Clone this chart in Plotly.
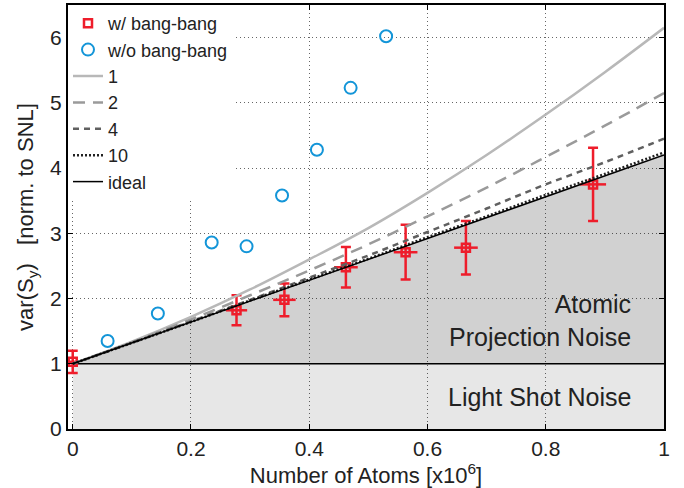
import plotly.graph_objects as go

# ---- data ----
bb_x = [0.0, 0.277, 0.358, 0.462, 0.563, 0.665, 0.880]
bb_y = [1.03, 1.82, 1.98, 2.48, 2.71, 2.78, 3.75]
bb_yerr = [0.17, 0.23, 0.25, 0.31, 0.42, 0.41, 0.56]
bb_xerr = [0.01, 0.018, 0.019, 0.02, 0.02, 0.02, 0.022]

nobb_x = [0.059, 0.144, 0.235, 0.294, 0.354, 0.413, 0.470, 0.530]
nobb_y = [1.35, 1.77, 2.86, 2.80, 3.58, 4.28, 5.23, 6.02]

model_x = [0.0, 0.1, 0.2, 0.3, 0.4, 0.5, 0.6, 0.7, 0.8, 0.9, 1.0]
model_1 = [1.0, 1.34, 1.72, 2.14, 2.60, 3.08, 3.62, 4.20, 4.82, 5.47, 6.15]
model_2 = [1.0, 1.33, 1.68, 2.05, 2.43, 2.83, 3.26, 3.70, 4.17, 4.65, 5.15]
model_4 = [1.0, 1.32, 1.65, 1.98, 2.32, 2.66, 3.02, 3.38, 3.75, 4.09, 4.45]
model_10 = [1.0, 1.32, 1.64, 1.97, 2.29, 2.61, 2.94, 3.26, 3.59, 3.91, 4.24]

ideal_x = [0.0, 1.0]
ideal_y = [1.0, 4.2]
snl_y = [1.0, 1.0]

FONT = "Liberation Sans, Arial, Helvetica, sans-serif"
RED = "#ee1d2b"
BLUE = "#1395d8"

fig = go.Figure()

# shaded regions (transparent so the grid shows through)
fig.add_trace(go.Scatter(x=ideal_x, y=snl_y, mode="lines", line=dict(color="black", width=1.5),
                         fill="tozeroy", fillcolor="rgba(0,0,0,0.095)", showlegend=False,
                         hoverinfo="skip"))
fig.add_trace(go.Scatter(x=ideal_x, y=ideal_y, mode="lines", line=dict(width=0),
                         fill="tonexty", fillcolor="rgba(0,0,0,0.18)", showlegend=False,
                         hoverinfo="skip"))

# data
fig.add_trace(go.Scatter(
    x=bb_x, y=bb_y, mode="markers", name="w/ bang-bang",
    marker=dict(symbol="square-open", size=8, color=RED, line=dict(width=2.5, color=RED)),
    error_y=dict(type="data", array=bb_yerr, color=RED, thickness=2.5, width=5),
    error_x=dict(type="data", array=bb_xerr, color=RED, thickness=2.5, width=0),
))
fig.add_trace(go.Scatter(
    x=nobb_x, y=nobb_y, mode="markers", name="w/o bang-bang",
    marker=dict(symbol="circle-open", size=12, color=BLUE, line=dict(width=2, color=BLUE)),
))

# model curves
fig.add_trace(go.Scatter(x=model_x, y=model_1, mode="lines", name="1",
                         line=dict(color="#b8b8b8", width=2.5, shape="spline")))
fig.add_trace(go.Scatter(x=model_x, y=model_2, mode="lines", name="2",
                         line=dict(color="#9a9a9a", width=2.5, dash="12px,8px", shape="spline")))
fig.add_trace(go.Scatter(x=model_x, y=model_4, mode="lines", name="4",
                         line=dict(color="#606060", width=2.5, dash="6px,5px", shape="spline")))
fig.add_trace(go.Scatter(x=model_x, y=model_10, mode="lines", name="10",
                         line=dict(color="#222222", width=2.5, dash="2px,2px", shape="spline")))
fig.add_trace(go.Scatter(x=ideal_x, y=ideal_y, mode="lines", name="ideal",
                         line=dict(color="black", width=1.5)))

axis_common = dict(
    showline=True, linecolor="black", linewidth=2, mirror="ticks",
    ticks="inside", ticklen=5, tickwidth=1, tickcolor="black",
    showgrid=True, gridcolor="#666666", gridwidth=1, griddash="1px,3px",
    zeroline=False, tickfont=dict(size=21, color="#222222", family=FONT),
    automargin=False,
)

fig.update_layout(
    width=684, height=488,
    margin=dict(l=68, r=20, t=5, b=59),
    paper_bgcolor="white", plot_bgcolor="white",
    font=dict(family=FONT, color="#222222"),
    xaxis=dict(range=[-0.008, 1.0], tickvals=[0, 0.2, 0.4, 0.6, 0.8, 1],
               ticktext=["0", "0.2", "0.4", "0.6", "0.8", "1"],
               title=dict(text="Number of Atoms [x10<sup>6</sup>]", font=dict(size=22), standoff=2),
               **axis_common),
    yaxis=dict(range=[0, 6.5], tickvals=[0, 1, 2, 3, 4, 5, 6],
               title=dict(text="var(S<sub>y</sub>)   [norm. to SNL]", font=dict(size=22), standoff=10),
               **axis_common),
    legend=dict(x=0.0, y=1.0, xanchor="left", yanchor="top", bgcolor="white",
                borderwidth=0, font=dict(size=18, family=FONT), tracegroupgap=0,
                traceorder="normal", itemwidth=30),
    showlegend=True,
    annotations=[
        dict(x=0.948, y=1.66, xref="x", yref="y", text="Atomic<br>Projection Noise",
             showarrow=False, xanchor="right", yanchor="middle", align="right",
             font=dict(size=25, color="#222222", family=FONT)),
        dict(x=0.948, y=0.49, xref="x", yref="y", text="Light Shot Noise",
             showarrow=False, xanchor="right", yanchor="middle", align="right",
             font=dict(size=25, color="#222222", family=FONT)),
    ],
)

fig.write_html("out.html", config={"displayModeBar": False},
               post_script="document.body.style.margin='0px';")
